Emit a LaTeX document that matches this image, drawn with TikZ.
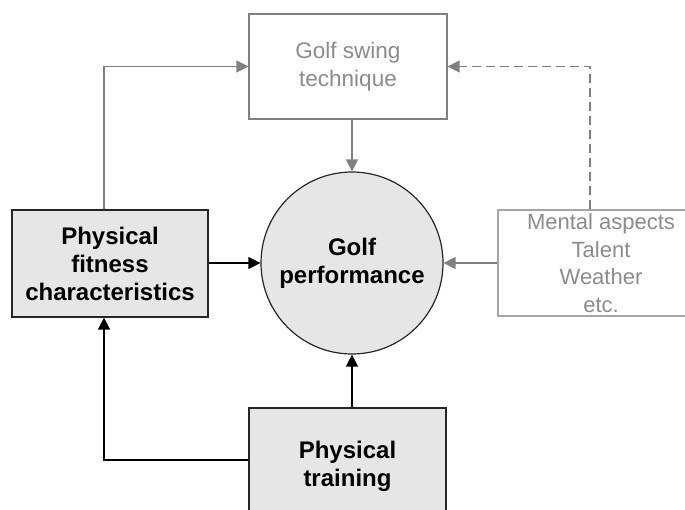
\documentclass[tikz,border=0pt]{standalone}
\usepackage{fontspec}
\setmainfont{Liberation Sans}
\usetikzlibrary{arrows.meta}
\definecolor{boxfill}{HTML}{E6E6E6}
\definecolor{lgray}{HTML}{808080}
\definecolor{mgray}{HTML}{A6A6A6}
\definecolor{tgray}{HTML}{8C8C8C}
\tikzset{
  darkbox/.style={draw=black!85, fill=boxfill, line width=1.2pt, rectangle, align=center,
     font=\fontsize{24}{28}\selectfont\bfseries, inner sep=0pt},
  lightbox/.style={draw=lgray, fill=white, line width=1.2pt, rectangle, align=center,
     font=\fontsize{22.5}{28}\selectfont, text=tgray, inner sep=0pt},
  conn/.style={line width=1.3pt, -{Triangle[length=12pt,width=12pt]}},
  gconn/.style={conn, draw=lgray},
}
\begin{document}
\begin{tikzpicture}[x=1pt,y=-1pt]
\useasboundingbox (0,0) rectangle (685,509);
\clip (0,0) rectangle (685,509);
\fill[white] (0,0) rectangle (685,509);
\node[lightbox, minimum width=198pt, minimum height=105pt] (swing) at (348,66.5) {Golf swing\\technique};
\node[darkbox, minimum width=196pt, minimum height=107pt] (fit) at (110,263.5) {Physical\\fitness\\characteristics};
\node[darkbox, circle, minimum size=182pt] (perf) at (352,263) {Golf\\performance};
\node[lightbox, draw=mgray, minimum width=206pt, minimum height=106pt, font=\fontsize{22}{27.5}\selectfont] (mental) at (601,263) {Mental aspects\\Talent\\Weather\\etc.};
\node[darkbox, minimum width=197pt, minimum height=116pt] (train) at (347.5,466) {Physical\\training};
\draw[gconn] (perf.north |- swing.south) -- (perf.north);
\draw[conn] (fit.east |- perf.west) -- (perf.west);
\draw[gconn] (mental.west) -- (perf.east);
\draw[conn] (perf.south |- train.north) -- (perf.south);
\coordinate (tl) at (0,460);
\draw[conn] (train.west |- tl) -| ([xshift=-6pt]fit.south);
\draw[gconn] ([xshift=-6pt]fit.north) |- (swing.west);
\draw[gconn, dash pattern=on 9pt off 5pt] ([xshift=-11pt]mental.north) |- (swing.east);
\end{tikzpicture}
\end{document}
